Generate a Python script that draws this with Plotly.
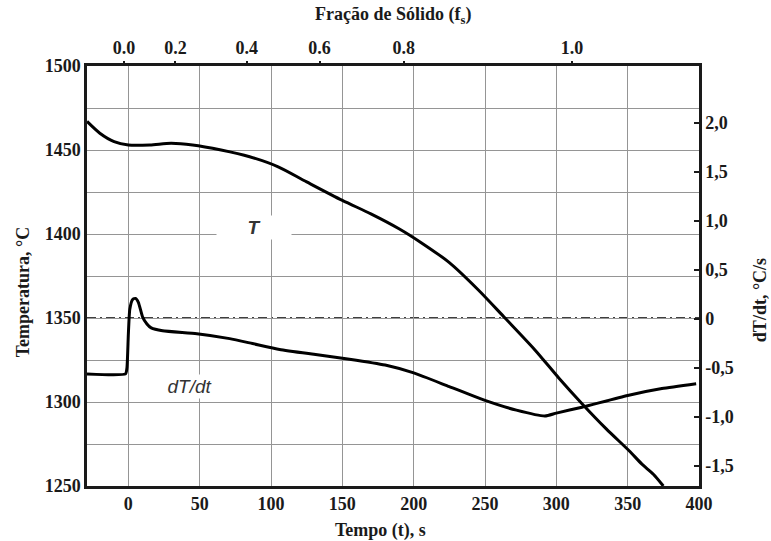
import plotly.graph_objects as go

# ---- data ----
T_time = [-29, -20, -10, 0, 15, 30, 45, 65, 85, 105, 125, 150, 170, 190, 205,
          225, 245, 264, 285, 302, 318, 335, 351, 360, 368, 375]
T_vals = [1467, 1460, 1455, 1453, 1453, 1454, 1453, 1450, 1446, 1440, 1431,
          1420, 1412, 1403, 1395, 1383, 1367, 1350, 1331, 1314, 1299,
          1284, 1271, 1263, 1257, 1250]

dT_time = [-29, -2, -1, 0, 1, 3, 5, 7, 10, 13, 16, 24, 48, 71, 87, 106, 130,
           155, 180, 200, 225, 250, 272, 292, 300, 318, 350, 374, 398]
dT_vals = [-0.56, -0.56, -0.50, -0.15, 0.10, 0.20, 0.21, 0.17, 0.02, -0.05,
           -0.09, -0.12, -0.15, -0.20, -0.25, -0.31, -0.36, -0.41, -0.47,
           -0.55, -0.69, -0.83, -0.93, -0.99, -0.96, -0.90, -0.78, -0.71, -0.66]

fs_tick_time = [-3, 33, 83, 134, 193, 311]
fs_tick_text = ["0.0", "0.2", "0.4", "0.6", "0.8", "1.0"]

time_tick_vals = [0, 50, 100, 150, 200, 250, 300, 350, 400]
T_tick_vals = [1250, 1275, 1300, 1325, 1350, 1375, 1400, 1425, 1450, 1475, 1500]
T_tick_text = ["1250", "", "1300", "", "1350", "", "1400", "", "1450", "", "1500"]

rate_tick_vals = [-1.5, -1.0, -0.5, 0, 0.5, 1.0, 1.5, 2.0]
rate_tick_text = ["-1,5", "-1,0", "-0,5", "0", "0,5", "1,0", "1,5", "2,0"]

x_range = [-29, 400]
T_range = [1250, 1500]
rate_range = [-1.704, 2.582]
ref_T = 1350

FONT = "Liberation Serif"
tickfont = dict(family=FONT, size=18, color="#1a1a1a")
titlefont = dict(family=FONT, size=18, color="#1a1a1a")
GRID = "#959595"


def bold(items):
    return ["<b>%s</b>" % s if s else " " for s in items]


fig = go.Figure()
fig.add_trace(go.Scatter(x=T_time, y=T_vals, mode="lines", xaxis="x", yaxis="y",
                         line=dict(color="black", width=3, shape="spline", smoothing=0.8),
                         showlegend=False, hoverinfo="skip"))
fig.add_trace(go.Scatter(x=dT_time, y=dT_vals, mode="lines", xaxis="x", yaxis="y2",
                         line=dict(color="black", width=3, shape="spline", smoothing=0.5),
                         showlegend=False, hoverinfo="skip"))
# invisible trace to activate top axis
fig.add_trace(go.Scatter(x=[x_range[0]], y=[T_range[0]], xaxis="x2", yaxis="y",
                         mode="markers", marker=dict(opacity=0), showlegend=False,
                         hoverinfo="skip"))

# white cover over the gridline + dash-dot reference line
fig.add_shape(type="line", xref="paper", yref="y", x0=0, x1=1, y0=ref_T, y1=ref_T,
              line=dict(color="white", width=3), layer="between")
fig.add_shape(type="line", xref="paper", yref="y", x0=0, x1=1, y0=ref_T, y1=ref_T,
              line=dict(color="black", width=1.6, dash="9px,4px,2px,4px"),
              layer="between")

fig.add_annotation(x=88, y=1404, xref="x", yref="y", text="<b><i>T</i></b>",
                   showarrow=False, bgcolor="white", width=72,
                   font=dict(family="Liberation Sans", size=19, color="#333"))
fig.add_annotation(x=43, y=1309, xref="x", yref="y", text="<i>dT/dt</i>",
                   showarrow=False, bgcolor="white", width=85,
                   font=dict(family="Liberation Sans", size=19, color="#333"))

# axis titles as paper annotations (plot area: x 87..699, y 66..486 px)
fig.add_annotation(xref="paper", yref="paper", x=0.50, y=1.12, showarrow=False,
                   text="<b>Fração de Sólido (f<sub>s</sub>)</b>", font=titlefont,
                   xanchor="center", yanchor="middle")
fig.add_annotation(xref="paper", yref="paper", x=0.48, y=-0.105, showarrow=False,
                   text="<b>Tempo (t), s</b>", font=titlefont,
                   xanchor="center", yanchor="middle")
fig.add_annotation(xref="paper", yref="paper", x=-0.104, y=0.462, showarrow=False,
                   text="<b>Temperatura, °C</b>", font=titlefont, textangle=-90,
                   xanchor="center", yanchor="middle")
fig.add_annotation(xref="paper", yref="paper", x=1.10, y=0.443, showarrow=False,
                   text="<b>dT/dt, °C/s</b>", font=titlefont, textangle=-90,
                   xanchor="center", yanchor="middle")

fig.update_layout(
    width=771, height=541,
    margin=dict(l=87, r=72, t=66, b=55),
    paper_bgcolor="white", plot_bgcolor="white",
    xaxis=dict(range=x_range, tickmode="array", tickvals=time_tick_vals,
               ticktext=bold([str(v) for v in time_tick_vals]),
               showgrid=True, gridcolor=GRID, automargin=False,
               gridwidth=1.3, showline=True, linecolor="#1a1a1a", linewidth=2.5,
               mirror=True, ticks="", zeroline=False, tickfont=tickfont),
    xaxis2=dict(range=x_range, overlaying="x", side="top", tickmode="array",
                tickvals=fs_tick_time, ticktext=bold(fs_tick_text), automargin=False,
                showgrid=False, zeroline=False, ticks="outside", ticklen=4,
                tickcolor="#1a1a1a", tickwidth=1.5, tickfont=tickfont),
    yaxis=dict(range=T_range, tickmode="array", tickvals=T_tick_vals,
               ticktext=bold(T_tick_text), automargin=False,
               showgrid=True, gridcolor=GRID, gridwidth=1.3,
               showline=True, linecolor="#1a1a1a", linewidth=2.5, mirror=True,
               ticks="", zeroline=False, tickfont=tickfont),
    yaxis2=dict(range=rate_range, overlaying="y", side="right", tickmode="array",
                tickvals=rate_tick_vals, ticktext=bold(rate_tick_text),
                automargin=False,
                showgrid=False, zeroline=False, showline=True, linecolor="#1a1a1a",
                linewidth=2.5, ticks="inside", ticklen=5, tickcolor="#1a1a1a",
                tickwidth=1.5, tickfont=tickfont),
)

fig.write_html("out.html")
